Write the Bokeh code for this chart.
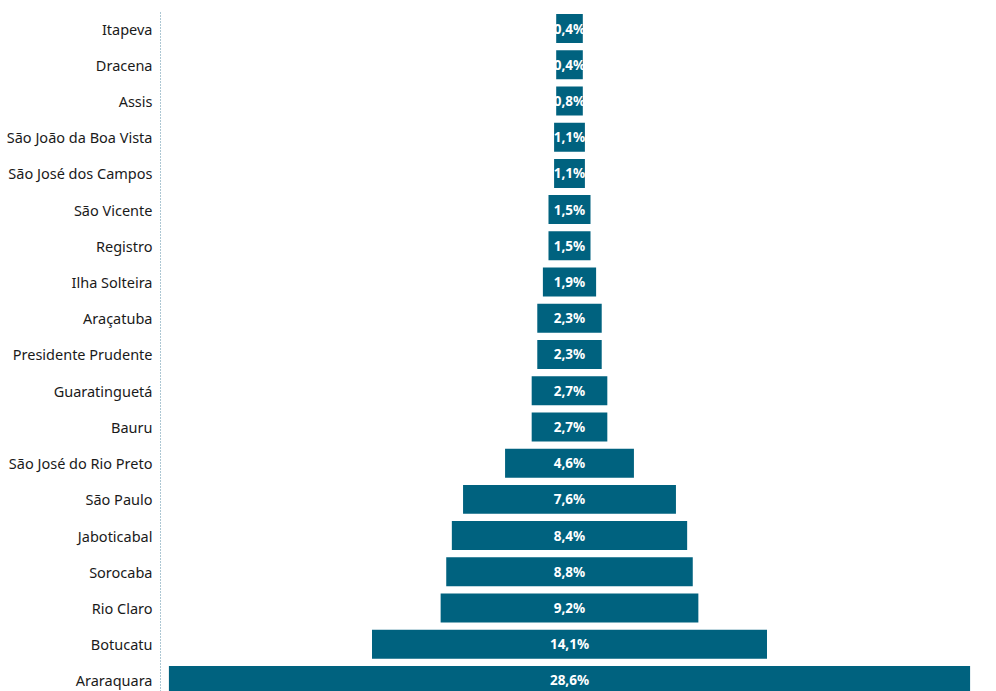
from bokeh.plotting import figure
from bokeh.models import ColumnDataSource, Range1d, FixedTicker
from bokeh.core.properties import value
from bokeh.embed import file_html
from bokeh.resources import INLINE

# categories listed top to bottom
categories = ["Itapeva", "Dracena", "Assis", "São João da Boa Vista", "São José dos Campos",
              "São Vicente", "Registro", "Ilha Solteira", "Araçatuba", "Presidente Prudente",
              "Guaratinguetá", "Bauru", "São José do Rio Preto", "São Paulo", "Jaboticabal",
              "Sorocaba", "Rio Claro", "Botucatu", "Araraquara"]
shares = [0.4, 0.4, 0.8, 1.1, 1.1, 1.5, 1.5, 1.9, 2.3, 2.3, 2.7, 2.7, 4.6, 7.6, 8.4, 8.8, 9.2, 14.1, 28.6]
labels = ["0,4%", "0,4%", "0,8%", "1,1%", "1,1%", "1,5%", "1,5%", "1,9%", "2,3%", "2,3%",
          "2,7%", "2,7%", "4,6%", "7,6%", "8,4%", "8,8%", "9,2%", "14,1%", "28,6%"]

n = len(categories)
ypos = [n - 1 - i for i in range(n)]
MIN_W = 0.95  # minimum visible bar width (label box)
widths = [max(v, MIN_W) for v in shares]

src = ColumnDataSource(dict(
    y=ypos,
    left=[-w / 2 for w in widths],
    right=[w / 2 for w in widths],
    label=labels,
    x=[0] * n,
))

p = figure(width=996, height=691, output_backend="svg", toolbar_location=None,
           x_range=Range1d(-14.6, 14.6), y_range=Range1d(-0.304, 18.497),
           min_border_left=160, min_border_right=18, min_border_top=10, min_border_bottom=0)

p.hbar(y="y", left="left", right="right", height=0.8, source=src,
       fill_color="#00627f", line_color=None)
p.text(x="x", y="y", text="label", source=src, text_align="center", text_baseline="middle",
       text_color="white", text_font=value("Noto Sans"), text_font_style="bold",
       text_font_size="13.5px")

p.xaxis.visible = False
p.xgrid.visible = False
p.ygrid.visible = False
p.outline_line_color = None

ya = p.yaxis[0]
ya.ticker = FixedTicker(ticks=ypos)
ya.major_label_overrides = {y: c for y, c in zip(ypos, categories)}
ya.major_tick_line_color = None
ya.minor_tick_line_color = None
ya.major_tick_in = 0
ya.major_tick_out = 0
ya.major_label_standoff = 8
ya.major_label_text_font = "Noto Sans"
ya.major_label_text_font_size = "14.5px"
ya.major_label_text_color = "#1a1a1a"
ya.axis_line_color = "#5b8fa6"
ya.axis_line_dash = "1 2"
ya.axis_line_width = 1

open("out.html", "w").write(file_html(p, INLINE))
